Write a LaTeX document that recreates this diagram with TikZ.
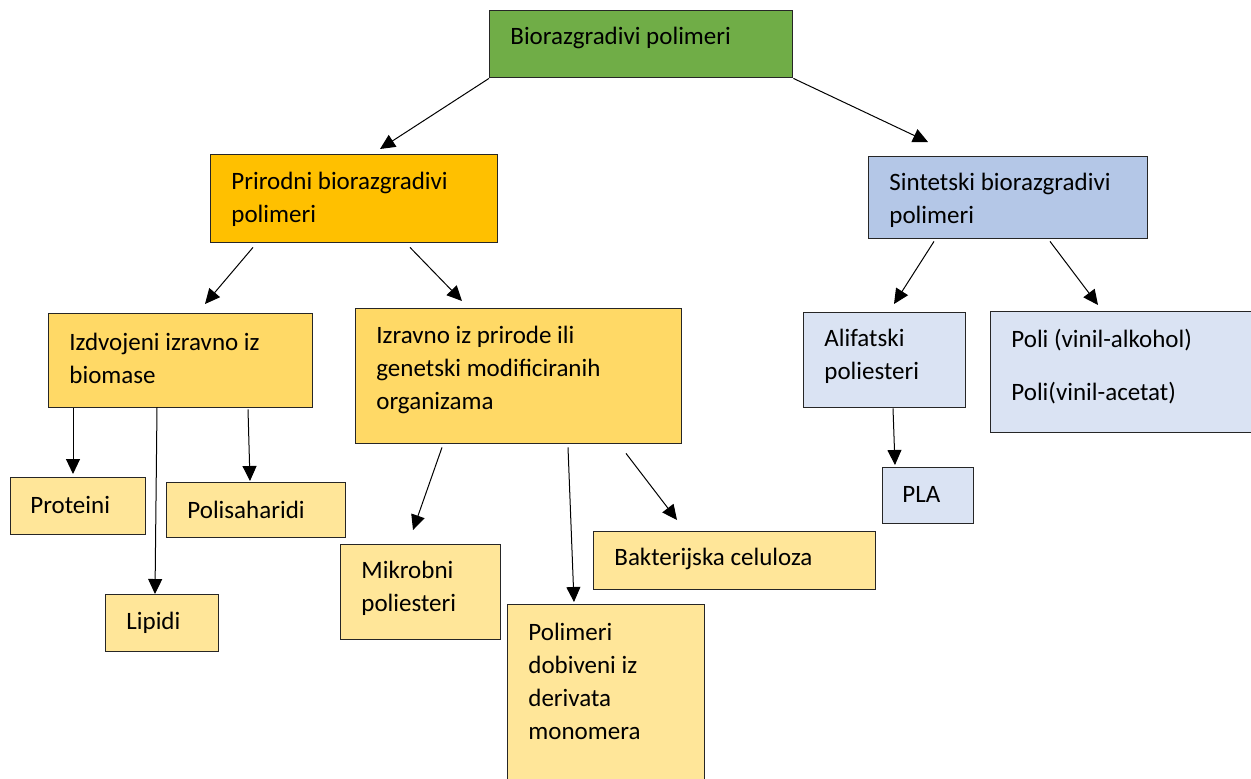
\documentclass[tikz,border=0pt]{standalone}
\usepackage{fontspec}
\setmainfont{Carlito}
\usetikzlibrary{arrows.meta,calc}
\definecolor{cgreen}{HTML}{70AD47}
\definecolor{corange}{HTML}{FFC000}
\definecolor{cblue}{HTML}{B4C7E7}
\definecolor{cyel}{HTML}{FFD966}
\definecolor{clyel}{HTML}{FFE699}
\definecolor{clblue}{HTML}{DAE3F3}
\tikzset{
  bx/.style={draw=black!85, line width=0.7pt, anchor=north west, inner sep=0pt},
  txt/.style={anchor=west, align=left, inner sep=0pt, font=\fontsize{12.5pt}{16.5pt}\selectfont},
  arr/.style={line width=0.5pt, -{Triangle[length=7.5pt,width=7pt]}}
}
\begin{document}
\begin{tikzpicture}[x=0.5pt,y=-0.5pt]
\useasboundingbox (0,0) rectangle (1251,778);
% boxes
\node[bx, fill=cgreen, minimum width=151.5pt, minimum height=33.5pt] (root) at (489,10) {};
\node[bx, fill=corange, minimum width=143.5pt, minimum height=44pt] (prir) at (210,154) {};
\node[bx, fill=cblue, minimum width=139.5pt, minimum height=41pt] (sint) at (868,156) {};
\node[bx, fill=cyel, minimum width=132pt, minimum height=47pt] (izd) at (48,313) {};
\node[bx, fill=cyel, minimum width=163pt, minimum height=67.5pt] (izr) at (355,308) {};
\node[bx, fill=clblue, minimum width=81pt, minimum height=47.5pt] (ali) at (803,312) {};
\node[bx, fill=clblue, minimum width=140pt, minimum height=60.5pt] (poli) at (990,311) {};
\node[bx, fill=clyel, minimum width=67.5pt, minimum height=28.5pt] (prot) at (10,477) {};
\node[bx, fill=clyel, minimum width=89.5pt, minimum height=27.5pt] (polis) at (166,482) {};
\node[bx, fill=clyel, minimum width=56.5pt, minimum height=28.5pt] (lip) at (105,594) {};
\node[bx, fill=clyel, minimum width=80pt, minimum height=47.5pt] (mik) at (340,544) {};
\node[bx, fill=clyel, minimum width=98.5pt, minimum height=98pt] (pol) at (507,604) {};
\node[bx, fill=clyel, minimum width=141pt, minimum height=29pt] (bak) at (593,531) {};
\node[bx, fill=clblue, minimum width=45.5pt, minimum height=28pt] (pla) at (882,467) {};
% texts
\node[txt] (root-t) at ($(root.west)+(21,-6.5)$) {Biorazgradivi polimeri};
\node[txt] (prir-t) at ($(prir.west)+(21,0.5)$) {Prirodni biorazgradivi\\polimeri};
\node[txt] (sint-t) at ($(sint.west)+(21,2.5)$) {Sintetski biorazgradivi\\polimeri};
\node[txt] (izd-t) at ($(izd.west)+(21,-2.5)$) {Izdvojeni izravno iz\\biomase};
\node[txt] (izr-t) at ($(izr.west)+(21,-6.5)$) {Izravno iz prirode ili\\genetski modificiranih\\organizama};
\node[txt] (ali-t) at ($(ali.west)+(21,-3.5)$) {Alifatski\\poliesteri};
\node[txt] (poli-t) at ($(poli.west)+(21,-6)$) {Poli (vinil-alkohol)\\[10pt]Poli(vinil-acetat)};
\node[txt] (prot-t) at ($(prot.west)+(20,-1.5)$) {Proteini};
\node[txt] (polis-t) at ($(polis.west)+(21,0)$) {Polisaharidi};
\node[txt] (lip-t) at ($(lip.west)+(21,0)$) {Lipidi};
\node[txt] (mik-t) at ($(mik.west)+(21,-3.5)$) {Mikrobni\\poliesteri};
\node[txt] (pol-t) at ($(pol.west)+(21,-21)$) {Polimeri\\dobiveni iz\\derivata\\monomera};
\node[txt] (bak-t) at ($(bak.west)+(21,-2)$) {Bakterijska celuloza};
\node[txt] (pla-t) at ($(pla.west)+(20,-1)$) {PLA};
% arrows
\draw[arr] (root.south west) -- ($(prir.north west)+(170,-5)$);
\draw[arr] (root.south east) -- ($(sint.north west)+(60,-14)$);
\draw[arr] ($(prir.south west)+(43,4)$) -- ($(izd.north west)+(157,-9)$);
\draw[arr] ($(prir.south west)+(200,4)$) -- ($(izr.north west)+(107,-7)$);
\draw[arr] ($(sint.south west)+(66,2)$) -- ($(ali.north west)+(91,-8)$);
\draw[arr] ($(sint.south west)+(182,2)$) -- ($(poli.north west)+(108,-6)$);
\draw[arr] ($(izd.south west)+(25,0)$) -- ($(prot.north west)+(63,-3)$);
\draw[arr] ($(izd.south west)+(109,-1)$) -- ($(lip.north west)+(50,0)$);
\draw[arr] ($(izd.south west)+(200,1)$) -- ($(polis.north west)+(84,-1)$);
\draw[arr] ($(izr.south west)+(87,3)$) -- ($(mik.north west)+(73,-14)$);
\draw[arr] ($(izr.south west)+(213,3)$) -- ($(pol.north west)+(67,-2)$);
\draw[arr] ($(izr.south west)+(271,9)$) -- ($(bak.north west)+(84,-11)$);
\draw[arr] ($(ali.south west)+(90,0)$) -- ($(pla.north west)+(13,-2)$);
\end{tikzpicture}
\end{document}
